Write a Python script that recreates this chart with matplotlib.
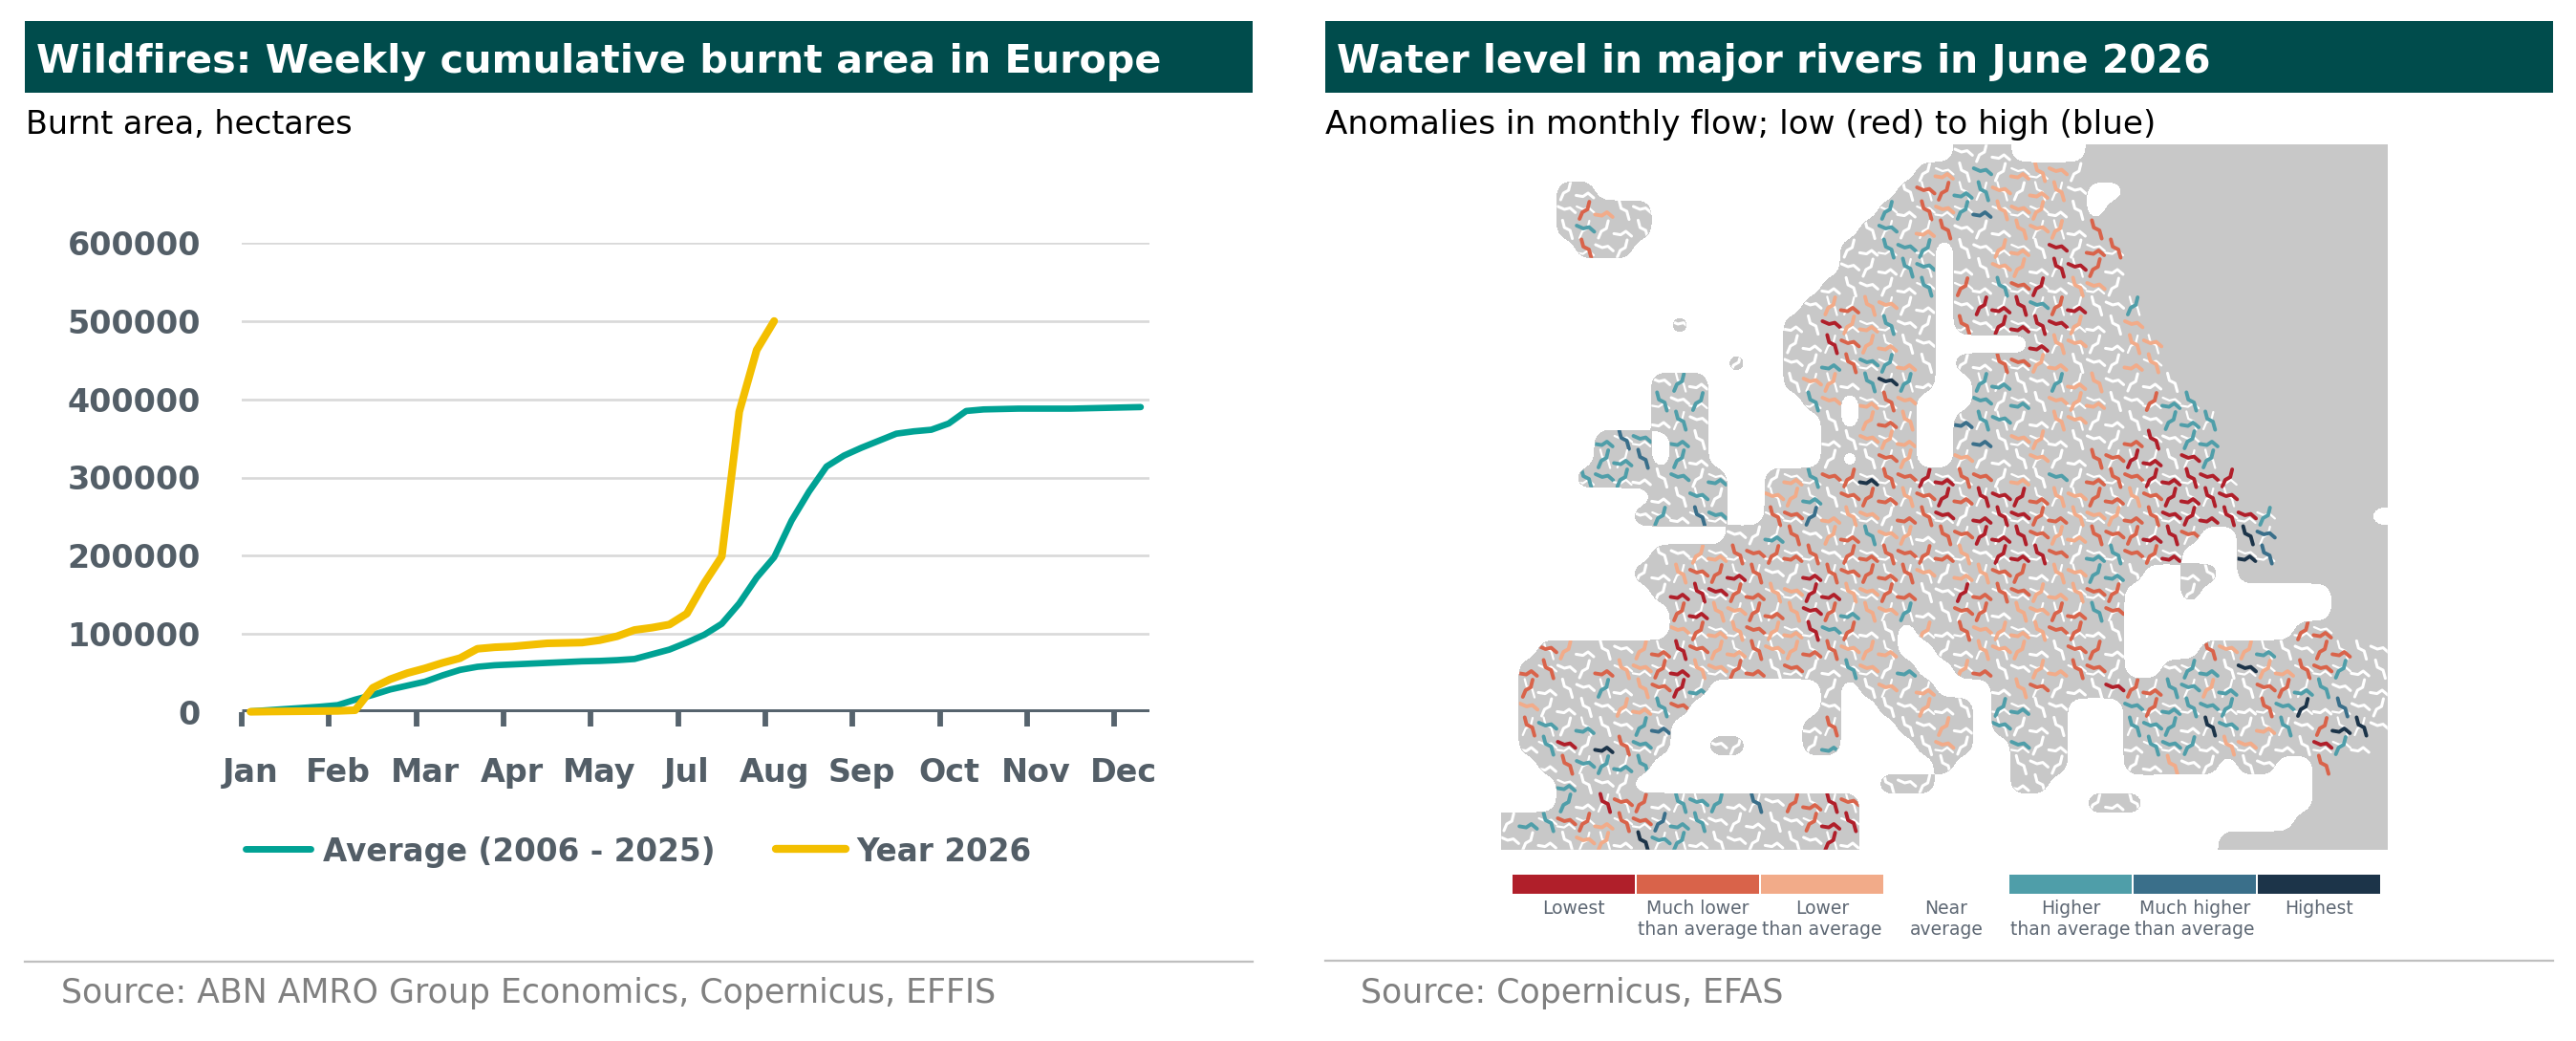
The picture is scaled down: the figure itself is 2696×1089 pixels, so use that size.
import numpy as np
import matplotlib
matplotlib.use("Agg")
import matplotlib.pyplot as plt
import matplotlib.transforms as mtransforms
from matplotlib.collections import LineCollection
from matplotlib.patches import Rectangle

# ---------------- data ----------------
MONTH_LABELS = ['Jan', 'Feb', 'Mar', 'Apr', 'May', 'Jul', 'Aug', 'Sep', 'Oct', 'Nov', 'Dec']
N_WEEKS = 52
AVG_2006_2025 = [1000, 2500, 4000, 5500, 7000, 9000, 16000, 22000, 29000, 34000,
                 39000, 47000, 54000, 58000, 60000, 61000, 62000, 63000, 64000, 65000,
                 65500, 66500, 68000, 74000, 80000, 89000, 99000, 113000, 139000, 172000,
                 198000, 245000, 282000, 314000, 328000, 338000, 347000, 356000, 359000, 361000,
                 369000, 385000, 387000, 387500, 388000, 388000, 388000, 388000, 388500, 389000,
                 389500, 390000]
YEAR_2026 = [500, 800, 1000, 1200, 1400, 1600, 2500, 31000, 42000, 50000,
             56000, 63000, 69000, 81000, 83000, 84000, 86000, 88000, 88500, 89000,
             92000, 97000, 105000, 108000, 112000, 126000, 165000, 199000, 384000, 463000,
             500000]
Y_TICKS = [0, 100000, 200000, 300000, 400000, 500000, 600000]
SERIES_NAMES = ['Average (2006 - 2025)', 'Year 2026']

LEFT_TITLE = 'Wildfires: Weekly cumulative burnt area in Europe'
LEFT_SUB = 'Burnt area, hectares'
LEFT_SRC = 'Source: ABN AMRO Group Economics, Copernicus, EFFIS'
RIGHT_TITLE = 'Water level in major rivers in June 2026'
RIGHT_SUB = 'Anomalies in monthly flow; low (red) to high (blue)'
RIGHT_SRC = 'Source: Copernicus, EFAS'

FLOW_CLASS_LINE1 = ['Lowest', 'Much lower', 'Lower', 'Near', 'Higher', 'Much higher', 'Highest']
FLOW_CLASS_LINE2 = ['', 'than average', 'than average', 'average', 'than average', 'than average', '']
FLOW_CLASS_CODES = ['R', 'r', 'o', 'w', 'h', 'H', 'B']

# coarse raster of the river-flow map: '.' sea, 'g' land without data,
# 'w' near average, R/r/o low classes, h/H/B high classes
MAP_ROWS = [
    '.' * 24 + 'www' + '....' + 'g' * 16,
    '.' * 22 + 'wo' + 'whwooow' + 'gg' + 'g' * 14,
    '...' + 'ww' + '.' * 16 + 'wrr' + 'hhowoow' + '..' + 'g' * 14,
    '...' + 'wroww' + '.' * 12 + 'hwrohHoooww' + '.' + 'g' * 15,
    '...' + 'whwww' + '.' * 11 + 'whwor' + 'www' + 'ooo' + 'w' + 'r' + 'g' * 15,
    '....' + 'rww' + '.' * 11 + 'ww' + 'hhh' + '.' + 'ww' + 'oo' + 'w' + 'R' + 'w' + 'rr' + 'g' * 14,
    '.' * 18 + 'www' + 'hh' + '.' + 'ww' + 'oo' + 'w' + 'RR' + 'r' + 'w' + 'g' * 14,
    '.' * 17 + 'wwwww' + 'h' + '.' + 'rwhrRwoow' + 'g' * 14,
    '.' * 16 + 'worooww' + '.' + 'wRRRhrRwwh' + 'g' * 13,
    '.' * 9 + 'w' + '.' * 5 + 'wwRoohww' + '.' + 'rwRRRRowwo' + 'g' * 13,
    '.' * 15 + 'wwRrooww' + '.....' + 'Roowwoo' + 'g' * 12,
    '.' * 12 + 'w' + '..' + 'wwhrhhow' + '.' + 'wwrroowwwoo' + 'g' * 12,
    '.' * 8 + 'whw' + '....' + 'woowhBhw' + '..' + 'hhwwhoowwww' + 'g' * 11,
    '.' * 8 + 'hwh' + '.' * 5 + 'ho' + '.' + 'oro' + '...' + 'hwhwooowwrhh' + 'g' * 10,
    '.' * 8 + 'whw' + '.' * 6 + 'w' + '.' + 'oro' + '..' + 'Hhhwwoowwwwhhh' + 'g' * 9,
    '.' * 5 + 'hHh' + '.' + 'hw' + '.' * 6 + 'ww' + 'ooo' + '..' + 'wHwoowwwwrRwhh' + 'g' * 9,
    '.' * 5 + 'hhH' + '.' + 'hw' + '.' * 6 + 'w' + '.' + 'w' + 'ro' + '..' + 'owwwowwrrRRwRh' + 'g' * 9,
    '.' * 4 + 'hhhw' + 'whwh' + '..' + 'wohrrBrrRR' + 'rrwowhwrrrRRRRR' + 'g' * 8,
    '.' * 8 + 'wwhw' + '..' + 'oohwrrrorR' + 'rRRRroorrorRRRR' + 'g' * 8,
    '.' * 7 + 'whwHh' + '..' + 'rrHooowrrR' + 'wRRRrrooorrRRRRRh' + 'ggggg' + '.',
    '.' * 12 + 'wwhrworhoowr' + 'rRRRroorrrRRr' + '..' + 'BH' + 'g' * 6,
    '.' * 8 + 'wwoorrrrrwrrrrrr' + 'owRRRrwhhrrR' + '...' + 'BH' + 'g' * 6,
    '.' * 7 + 'wworrRrwwRrrrrrow' + 'oorrwoohhw' + '..' + 'ww' + '.' + 'g' * 8,
    '.' * 8 + 'wRRRrrooRRoorrww' + 'Rrrrooorr' + '...' + 'w' + '.' * 7 + 'ggg',
    '.' * 9 + 'rRoorroRrhoohww' + 'rrwoorrhr' + '.' * 11 + 'ggg',
    '.' * 9 + 'orooroo' + 'Rhr' + 'ww' + '.ow' + 'roooorrww' + '.' * 9 + 'rr' + 'ggg',
    '..' + 'rowwwor' + 'Rrooroorrooo' + '..' + 'w' + 'wooowwrrw' + '....' + 'roohwwrrww',
    '.' + 'rrwwroorR' + 'oorrwrww' + 'howh' + '..' + 'orwwoorrw' + '..' + 'whhwBoorrhww',
    '.' + 'rwwwhworRh' + '.' * 6 + 'w' + '.' + 'wowo' + '...' + 'worwwwRrrhhohwrrhhwww',
    '.' + 'owwwwoohr' + '.' * 7 + 'w' + '..' + 'wwoww' + '.' + 'hhww' + '...' + 'hrhhhhwrhBwHww',
    '.' + 'rhwhwwhH' + '.' * 7 + 'wr' + '...' + 'wwow' + '.' + 'hwww' + '...' + 'hhhwBhwohwrBBw',
    '.' + 'whRwBrhw' + '..' + 'ww' + '...' + 'wh' + '....' + 'wow' + '..' + 'hww' + '...' + 'whhhwoowwwRhwg',
    '..' + 'wrhhhh' + '.' * 15 + 'w' + '...' + 'www' + '...' + 'wwoww' + '.' + 'ww' + '..' + 'rggg',
    '...' + 'hwww' + '.' * 13 + 'www' + '....' + 'ww' + '.' * 14 + 'gggg',
    '...' + 'hwRrrwhhhwHwrrRr' + '.' * 12 + 'www' + '.' * 9 + 'gggg',
    'whhrrorrHhhwwwwwrRR' + '.' * 23 + 'ggggg',
    'wwwwoowBhhwwwwwwwRw' + '.' * 19 + 'g' * 9,
]

# ---------------- styles ----------------
W, H = 2696, 1089
BAND = '#004c4c'
GREEN = '#00a294'
YELLOW = '#f3bf00'
AXIS = '#56636d'
TICKTXT = '#535e67'
GRID = '#d9d9d9'
SEP = '#bfbfbf'
SRC = '#808080'
MAP_GRAY = '#c8c8c8'
CLASS_COLORS = {'R': '#b01f2a', 'r': '#d9634a', 'o': '#f2ab89', 'w': '#ffffff',
                'h': '#4f9ea9', 'H': '#3a6f8a', 'B': '#1c3449'}

plt.rcParams['font.family'] = ['DejaVu Sans']

fig = plt.figure(figsize=(W / 100, H / 100), dpi=100)


def px_rect(x, y, w, h):
    return [x / W, 1 - (y + h) / H, w / W, h / H]


# overlay in pixel coordinates
ov = fig.add_axes([0, 0, 1, 1])
ov.set_xlim(0, W)
ov.set_ylim(H, 0)
ov.axis('off')

for x0, title, fs in [(26, LEFT_TITLE, 29.7), (1387, RIGHT_TITLE, 29.4)]:
    ov.add_patch(Rectangle((x0, 22), 1285, 75, facecolor=BAND, edgecolor='none'))
    ov.text(x0 + 12, 76, title, color='white', fontsize=fs, fontweight='bold', va='baseline', ha='left')
ov.text(27, 140, LEFT_SUB, color='black', fontsize=24, va='baseline', ha='left')
ov.text(1387, 140, RIGHT_SUB, color='black', fontsize=24.6, va='baseline', ha='left')
ov.plot([26, 1311], [1006, 1006], color=SEP, lw=1.6)
ov.plot([1387, 2672], [1005, 1005], color=SEP, lw=1.6)
ov.text(64, 1049, LEFT_SRC, color=SRC, fontsize=25, va='baseline', ha='left')
ov.text(1424, 1049, RIGHT_SRC, color=SRC, fontsize=25, va='baseline', ha='left')

# legend of the line chart
leg_colors = [GREEN, YELLOW]
leg_widths = [5.0, 6.0]
leg_x = [(257, 325, 338), (812, 885, 896)]
for name, col, lw, (xa, xb, xt) in zip(SERIES_NAMES, leg_colors, leg_widths, leg_x):
    ov.plot([xa, xb], [888, 888], color=col, lw=lw, solid_capstyle='round')
    ov.text(xt, 901, name, color=TICKTXT, fontsize=23.5, fontweight='bold', va='baseline', ha='left')

# map legend
for i, (l1, l2, code) in enumerate(zip(FLOW_CLASS_LINE1, FLOW_CLASS_LINE2, FLOW_CLASS_CODES)):
    x0 = 1583 + 130 * i
    if code != 'w':
        ov.add_patch(Rectangle((x0, 915), 128, 20, facecolor=CLASS_COLORS[code], edgecolor='none'))
    ov.text(x0 + 64, 950, l1, color='#5d6773', fontsize=13.5, ha='center', va='center',
            family=['Liberation Sans Narrow', 'DejaVu Sans'])
    if l2:
        ov.text(x0 + 64, 972, l2, color='#5d6773', fontsize=13.5, ha='center', va='center',
                family=['Liberation Sans Narrow', 'DejaVu Sans'])

# ---------------- line chart ----------------
AX_L, AX_T, AX_W, AX_H = 253, 254, 950, 491
ax = fig.add_axes(px_rect(AX_L, AX_T, AX_W, AX_H))
ax.set_facecolor('none')
xa = np.arange(len(AVG_2006_2025)) + 0.5
xb = np.arange(len(YEAR_2026)) + 0.5
ax.set_xlim(0, N_WEEKS)
ax.set_ylim(0, 600000)
ax.set_yticks(Y_TICKS)
ax.set_yticklabels([str(v) for v in Y_TICKS], fontweight='bold')
ax.tick_params(axis='y', length=0, pad=31, labelsize=24, labelcolor=TICKTXT)
ax.yaxis.grid(True, color=GRID, lw=1.9)
ax.set_axisbelow(True)
for s in ax.spines.values():
    s.set_visible(False)
ax.axhline(0, color=AXIS, lw=5.0, zorder=2, solid_capstyle='butt')
ax.plot(xa, AVG_2006_2025, color=GREEN, lw=4.8, solid_joinstyle='round', solid_capstyle='round',
        zorder=4, clip_on=False)
ax.plot(xb, YEAR_2026, color=YELLOW, lw=5.8, solid_joinstyle='round', solid_capstyle='round',
        zorder=5, clip_on=False)
ax.set_xticks(np.arange(0, N_WEEKS, 5))
ax.tick_params(axis='x', length=11, width=4.2, color=AXIS, direction='out', labelbottom=False)
trans = mtransforms.blended_transform_factory(ax.transData, ax.transAxes)
label_y = (AX_T + AX_H - 818) / AX_H
for k, lab in enumerate(MONTH_LABELS):
    ax.text(5 * k + 0.5, label_y, lab, transform=trans, ha='center', va='baseline',
            fontsize=24, fontweight='bold', color=TICKTXT)

# ---------------- map ----------------
rows = [r.ljust(47, '.')[:47] for r in MAP_ROWS]
grid = np.array([list(r) for r in rows])
nr, nc = grid.shape
mx = fig.add_axes(px_rect(1570, 150, 930, 740))
mx.set_xlim(0, nc)
mx.set_ylim(nr, 0)
mx.axis('off')


def box_blur(a, k):
    p = k // 2
    b = np.pad(a, p, mode='edge')
    c = np.cumsum(b, axis=0)
    c = np.vstack([np.zeros((1, c.shape[1])), c])
    b = (c[k:] - c[:-k]) / k
    c = np.cumsum(b, axis=1)
    c = np.hstack([np.zeros((c.shape[0], 1)), c])
    return (c[:, k:] - c[:, :-k]) / k


up = 8
land = (grid != '.').astype(float)
big = np.kron(land, np.ones((up, up)))
sm = box_blur(box_blur(box_blur(big, 7), 7), 5)
xs = (np.arange(nc * up) + 0.5) / up
ys = (np.arange(nr * up) + 0.5) / up
cs = mx.contourf(xs, ys, sm, levels=[0.5, 2.0], colors=[MAP_GRAY])
land_path = cs.get_paths()[0]

STROKES = [
    [(0.05, 0.30), (0.40, 0.45), (0.70, 0.38), (0.98, 0.62)],
    [(0.20, 0.95), (0.35, 0.60), (0.62, 0.45), (0.72, 0.05)],
    [(0.02, 0.72), (0.38, 0.78), (0.65, 0.60), (0.95, 0.85)],
    [(0.30, 0.02), (0.40, 0.40), (0.70, 0.55), (0.82, 0.98)],
]
segs, cols, lws = [], [], []
for r in range(nr):
    for c in range(nc):
        code = grid[r, c]
        if code in ('.', 'g'):
            continue
        s1 = STROKES[(3 * r + c) % 4]
        s2 = STROKES[(r + 2 * c + 1) % 4]
        if code == 'w':
            segs.append([(c + a, r + b) for a, b in s1])
            cols.append('#ffffff')
            lws.append(2.2)
        else:
            segs.append([(c + a, r + b) for a, b in s2])
            cols.append('#ffffff')
            lws.append(1.6)
            segs.append([(c + a, r + b) for a, b in s1])
            cols.append(CLASS_COLORS[code])
            lws.append(2.8)
lc = LineCollection(segs, colors=cols, linewidths=lws, capstyle='round', joinstyle='round')
lc.set_clip_path(land_path, transform=mx.transData)
mx.add_collection(lc)

fig.savefig('out.png', dpi=100)
